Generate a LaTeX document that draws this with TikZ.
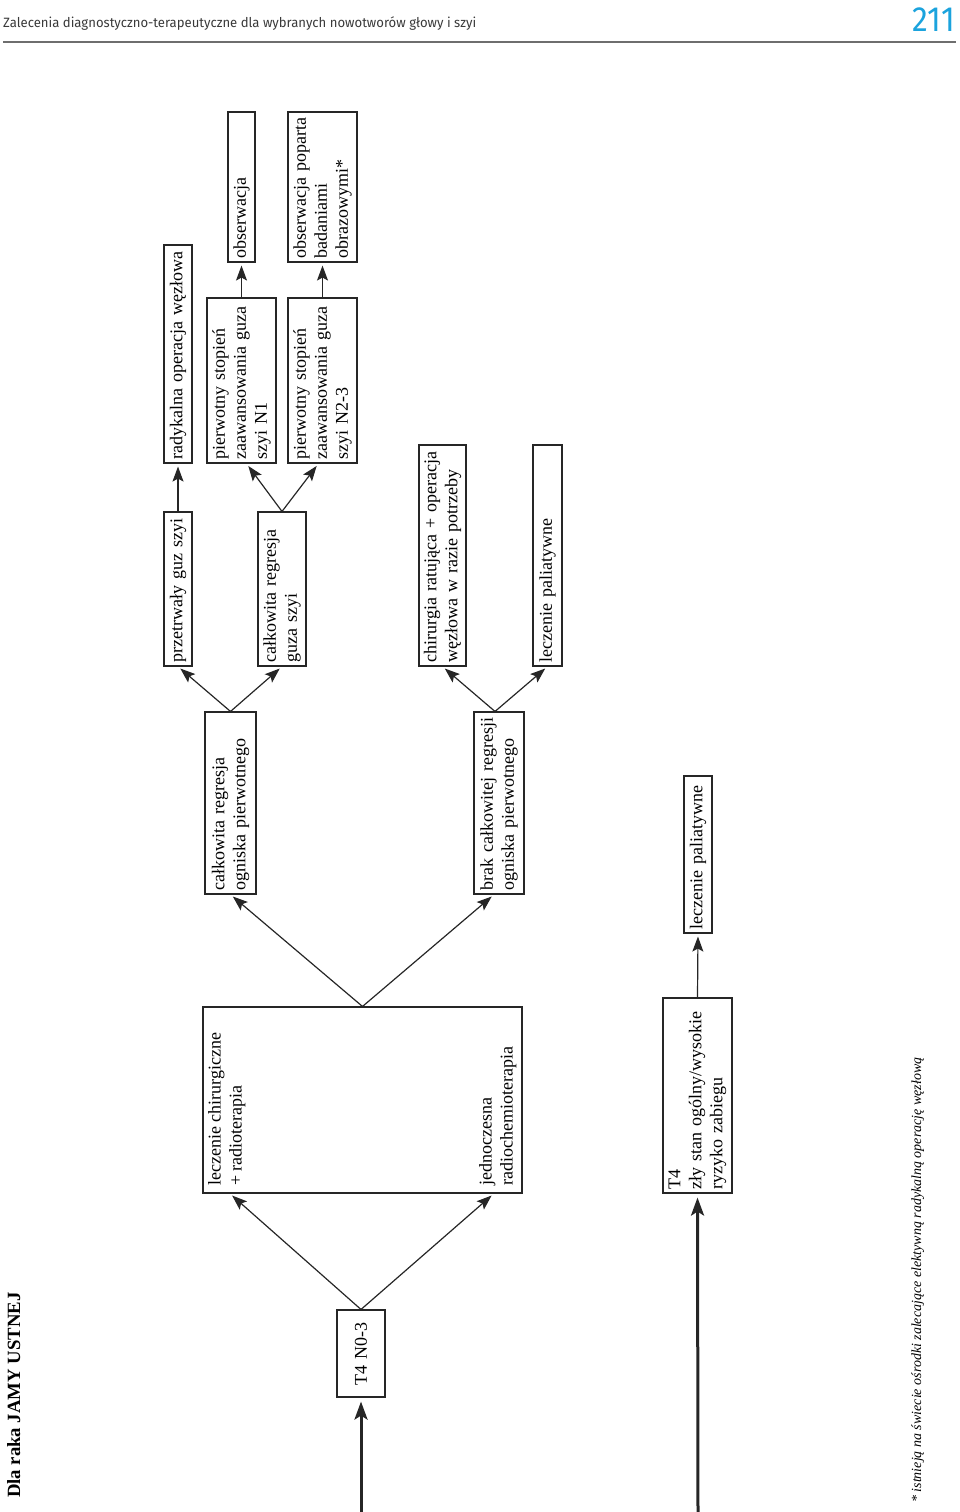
\documentclass[tikz,border=0pt]{standalone}
\usepackage{fontspec}
\usepackage{graphicx}
\setmainfont{Liberation Serif}
\newfontfamily\hdrfont{Fira Sans}
\usetikzlibrary{arrows.meta,calc}
\definecolor{hdrgray}{HTML}{3A3A3A}
\definecolor{rulegray}{HTML}{6E6E6E}
\definecolor{pagecyan}{HTML}{1BA3DD}
\definecolor{inkline}{HTML}{262626}
\begin{document}
\begin{tikzpicture}[x=1pt,y=-1pt,
  box/.style={draw=inkline, line width=1.1pt, rotate=90, inner xsep=4pt, inner ysep=1pt,
    align=left, font=\fontsize{18}{21}\selectfont, text=black},
  plaintext/.style={rotate=90, inner sep=0pt, align=left, font=\fontsize{18}{21}\selectfont, text=black},
  arr/.style={draw=inkline, line width=1.2pt, -{Stealth[length=15pt,width=11pt,inset=3pt]}, shorten >=3pt},
  thickarr/.style={draw=inkline, line width=3pt, -{Stealth[length=18pt,width=13pt,inset=4pt]}, shorten >=4pt}
]
\useasboundingbox (0,0) rectangle (960,1512);

% header
\node[anchor=base west, inner sep=0pt, text=hdrgray, font=\hdrfont\fontsize{13.5}{16}\selectfont] (hdr) at (3,28)
  {\resizebox{473pt}{\height}{Zalecenia diagnostyczno-terapeutyczne dla wybranych nowotworów głowy i szyi}};
\node[anchor=base east, inner sep=0pt, text=pagecyan, font=\hdrfont\fontsize{35}{40}\selectfont] (pnum) at (955,32)
  {\resizebox{42pt}{\height}{211}};
\draw[rulegray, line width=1.8pt] (3,42) -- (956,42);

% side title and footnote
\node[rotate=90, anchor=base west, inner sep=0pt, font=\bfseries\fontsize{18.7}{22}\selectfont] (title) at (20,1498)
  {Dla raka JAMY USTNEJ};
\node[rotate=90, anchor=base west, inner sep=0pt, font=\itshape\fontsize{14}{16}\selectfont] (foot) at (921,1503)
  {* istnieją na świecie ośrodki zalecające elektywną radykalną operację węzłową};

% boxes
\node[box, align=center, minimum width=87pt, text width=79pt, minimum height=48pt] (t4n) at (361,1353.5) {T4 N0-3};
\node[draw=inkline, line width=1.1pt, minimum width=319pt, minimum height=186pt, inner sep=0pt] (big) at (362.5,1100) {};
\node[plaintext, anchor=north west] (lcr) at (208,1186) {leczenie chirurgiczne\\+ radioterapia};
\node[plaintext, anchor=north west] (jrc) at (479,1186) {jednoczesna\\radiochemioterapia};

\node[box, minimum width=182pt, text width=174pt, minimum height=51pt] (cro) at (230.5,803) {całkowita regresja\\ogniska pierwotnego};
\node[box, minimum width=182pt, text width=174pt, minimum height=50pt] (bro) at (499,803) {brak całkowitej regresji\\ogniska pierwotnego};

\node[box, minimum width=154pt, text width=146pt, minimum height=28pt] (pgs) at (178,589) {przetrwały guz szyi};
\node[box, minimum width=218pt, text width=210pt, minimum height=28pt] (rad) at (178,354) {radykalna operacja węzłowa};
\node[box, minimum width=154pt, text width=146pt, minimum height=48pt] (crg) at (282,589) {całkowita regresja\\guza szyi};
\node[box, minimum width=165pt, text width=157pt, minimum height=69pt] (n1) at (241.5,380.5) {pierwotny stopień\\zaawansowania guza\\szyi N1};
\node[box, minimum width=150pt, text width=142pt, minimum height=27pt] (obs1) at (241.5,187) {obserwacja};
\node[box, minimum width=165pt, text width=157pt, minimum height=69pt] (n23) at (322.5,380.5) {pierwotny stopień\\zaawansowania guza\\szyi N2-3};
\node[box, minimum width=150pt, text width=142pt, minimum height=69pt] (obs2) at (322.5,187) {obserwacja poparta\\badaniami\\obrazowymi*};

\node[box, minimum width=221pt, text width=213pt, minimum height=47pt] (chir) at (442.5,555.5) {chirurgia ratująca + operacja\\węzłowa w razie potrzeby};
\node[box, minimum width=221pt, text width=213pt, minimum height=29pt] (pal1) at (547.5,555.5) {leczenie paliatywne};

\node[box, minimum width=195pt, text width=187pt, minimum height=69pt] (t4z) at (697.5,1095.5) {T4\\zły stan ogólny/wysokie\\ryzyko zabiegu};
\node[box, minimum width=157pt, text width=149pt, minimum height=28pt] (pal2) at (698,854.5) {leczenie paliatywne};

% inputs
\coordinate (in1) at (361,1512);
\coordinate (in2) at (698,1512);
\draw[thickarr] (in1) -- (t4n.west);
\draw[thickarr] (in2) -- (t4z.west);

% connectors
\draw[arr] (t4n.east) -- ([xshift=3pt]lcr.west |- big.south);
\draw[arr] (t4n.east) -- ([xshift=-4pt]jrc.west |- big.south);
\draw[arr] (big.north) -- (cro.west);
\draw[arr] (big.north) -- ([xshift=-5pt]bro.west);
\draw[arr] (cro.east) -- (pgs.west);
\draw[arr] (cro.east) -- (crg.west);
\draw[arr] (pgs.east) -- (rad.west);
\draw[arr] (crg.east) -- ([xshift=5pt]n1.west);
\draw[arr] (crg.east) -- ([xshift=-4pt]n23.west);
\draw[arr] (n1.east) -- (obs1.west);
\draw[arr] (n23.east) -- (obs2.west);
\draw[arr] ([xshift=-4pt]bro.east) -- (chir.west);
\draw[arr] ([xshift=-4pt]bro.east) -- (pal1.west);
\draw[arr] (t4z.east) -- (pal2.west);
\end{tikzpicture}
\end{document}
